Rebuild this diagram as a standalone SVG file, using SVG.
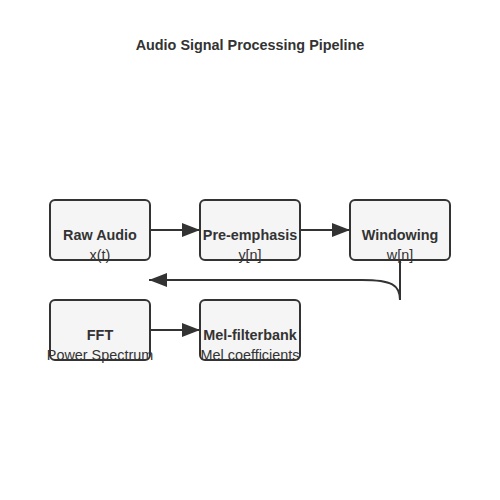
<svg xmlns="http://www.w3.org/2000/svg" width="500" height="500" viewBox="0 0 500 500">
<defs>
<style>
.box{fill:#f5f5f5;stroke:#333;stroke-width:2}
.lbl{font-family:"Liberation Sans",Arial,sans-serif;font-size:14.4px;font-weight:bold;fill:#333;text-anchor:middle}
.sub{font-family:"Liberation Sans",Arial,sans-serif;font-size:14.4px;fill:#333;text-anchor:middle}
.edge{fill:none;stroke:#333;stroke-width:2}
</style>
<marker id="arr" viewBox="0 0 18 14" refX="18" refY="7" markerWidth="18" markerHeight="14" markerUnits="userSpaceOnUse" orient="auto">
<path d="M0,0 L18,7 L0,14 Z" fill="#333"/>
</marker>
</defs>
<rect width="500" height="500" fill="#fff"/>
<text x="250" y="50" class="lbl">Audio Signal Processing Pipeline</text>
<g id="connectors">
<path class="edge" d="M150,230 L200,230" marker-end="url(#arr)"/>
<path class="edge" d="M300,230 L350,230" marker-end="url(#arr)"/>
<path class="edge" d="M400,260 L400,300 C400,285 392,280 362,280 L149,280" marker-end="url(#arr)"/>
<path class="edge" d="M150,330 L200,330" marker-end="url(#arr)"/>
</g>
<g id="raw">
<rect class="box" x="50" y="200" width="100" height="60" rx="5"/>
<text x="100" y="240" class="lbl">Raw Audio</text>
<text x="100" y="260" class="sub">x(t)</text>
</g>
<g id="pre">
<rect class="box" x="200" y="200" width="100" height="60" rx="5"/>
<text x="250" y="240" class="lbl">Pre-emphasis</text>
<text x="250" y="260" class="sub">y[n]</text>
</g>
<g id="win">
<rect class="box" x="350" y="200" width="100" height="60" rx="5"/>
<text x="400" y="240" class="lbl">Windowing</text>
<text x="400" y="260" class="sub">w[n]</text>
</g>
<g id="fft">
<rect class="box" x="50" y="300" width="100" height="60" rx="5"/>
<text x="100" y="340" class="lbl">FFT</text>
<text x="100" y="360" class="sub">Power Spectrum</text>
</g>
<g id="mel">
<rect class="box" x="200" y="300" width="100" height="60" rx="5"/>
<text x="250" y="340" class="lbl">Mel-filterbank</text>
<text x="250" y="360" class="sub">Mel coefficients</text>
</g>
</svg>
